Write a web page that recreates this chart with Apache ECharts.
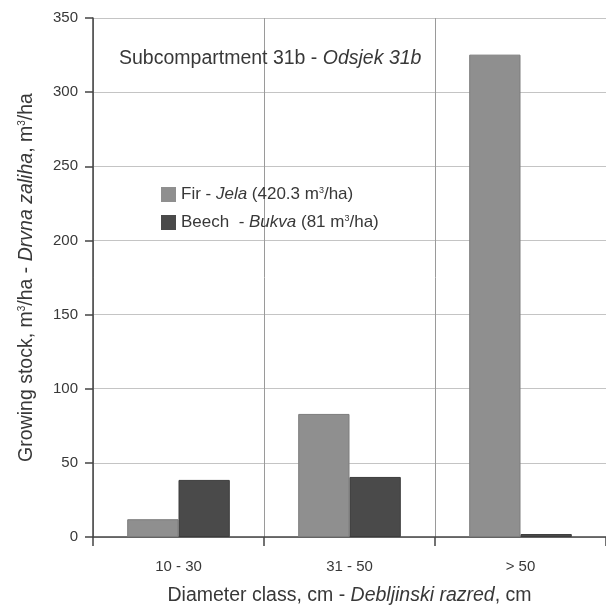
<!DOCTYPE html>
<html>
<head>
<meta charset="utf-8">
<script src="https://cdn.jsdelivr.net/npm/echarts@6/dist/echarts.min.js"></script>
<style>
  html, body { margin: 0; padding: 0; background: #fff; }
  #chart { width: 606px; height: 611px; }
</style>
</head>
<body>
<div id="chart"></div>
<script>
// Diameter classes on the x axis
const categories = ['10 - 30', '31 - 50', '> 50'];
// Growing stock per diameter class, m3/ha
const firValues = [12, 83, 325.3];
const beechValues = [38.5, 40.5, 2];
// Y axis scale
const yMin = 0;
const yMax = 350;
const yStep = 50;

const FONT = 'Liberation Sans, Arial, sans-serif';
const TEXT = '#383838';

const richBase = (size) => ({
  n: { fontFamily: FONT, fontSize: size, color: TEXT, fontWeight: 'normal' },
  i: { fontFamily: FONT, fontSize: size, color: TEXT, fontWeight: 'normal', fontStyle: 'italic' },
  s: { fontFamily: FONT, fontSize: Math.round(size * 0.5), color: TEXT, fontWeight: 'normal', verticalAlign: 'top', padding: [0, 0, Math.round(size * 0.45), 0] }
});

const legendText = {
  'Fir': '{n|Fir - }{i|Jela}{n| (420.3 m}{s|3}{n|/ha)}',
  'Beech': '{n|Beech  - }{i|Bukva}{n| (81 m}{s|3}{n|/ha)}'
};

const chart = echarts.init(document.getElementById('chart'), null, { renderer: 'canvas' });

chart.setOption({
  backgroundColor: '#ffffff',
  animation: false,
  title: {
    text: '{n|Subcompartment 31b - }{i|Odsjek 31b}',
    left: 114,
    top: 44,
    textStyle: { fontWeight: 'normal', rich: richBase(19.5) }
  },
  legend: {
    orient: 'vertical',
    left: 156,
    top: 181,
    itemWidth: 15,
    itemHeight: 15,
    itemGap: 11,
    icon: 'rect',
    data: ['Fir', 'Beech'],
    itemStyle: { borderWidth: 0 },
    formatter: (name) => legendText[name],
    textStyle: { rich: richBase(17) }
  },
  grid: { left: 93, top: 18, right: -10, bottom: 73.5 },
  xAxis: {
    type: 'category',
    data: categories,
    axisLine: { lineStyle: { color: '#444', width: 1.5 } },
    axisTick: { show: true, length: 9, lineStyle: { color: '#444', width: 1.5 } },
    splitLine: { show: true, lineStyle: { color: '#9a9a9a', width: 1 } },
    axisLabel: { fontFamily: FONT, fontSize: 15, color: TEXT, margin: 22 },
    name: '{n|Diameter class, cm - }{i|Debljinski razred}{n|, cm}',
    nameLocation: 'middle',
    nameGap: 49,
    nameTextStyle: { rich: richBase(19.5) }
  },
  yAxis: {
    type: 'value',
    min: yMin,
    max: yMax,
    interval: yStep,
    axisLine: { show: true, lineStyle: { color: '#444', width: 1.5 } },
    axisTick: { show: true, length: 8, lineStyle: { color: '#444', width: 1.5 } },
    splitLine: { show: true, lineStyle: { color: '#c4c4c4', width: 1.2 } },
    axisLabel: { fontFamily: FONT, fontSize: 15, color: TEXT, margin: 15 },
    name: '{n|Growing stock, m}{s|3}{n|/ha - }{i|Drvna zaliha}{n|, m}{s|3}{n|/ha}',
    nameLocation: 'middle',
    nameRotate: 90,
    nameGap: 56,
    nameTextStyle: { rich: richBase(19.5) }
  },
  series: [
    {
      name: 'Fir',
      type: 'bar',
      data: firValues,
      barGap: '0%',
      barCategoryGap: '40%',
      itemStyle: { color: '#8f8f8f', borderColor: '#7d7d7d', borderWidth: 1 }
    },
    {
      name: 'Beech',
      type: 'bar',
      data: beechValues,
      itemStyle: { color: '#4a4a4a', borderColor: '#3c3c3c', borderWidth: 1 }
    }
  ]
});
</script>
</body>
</html>
